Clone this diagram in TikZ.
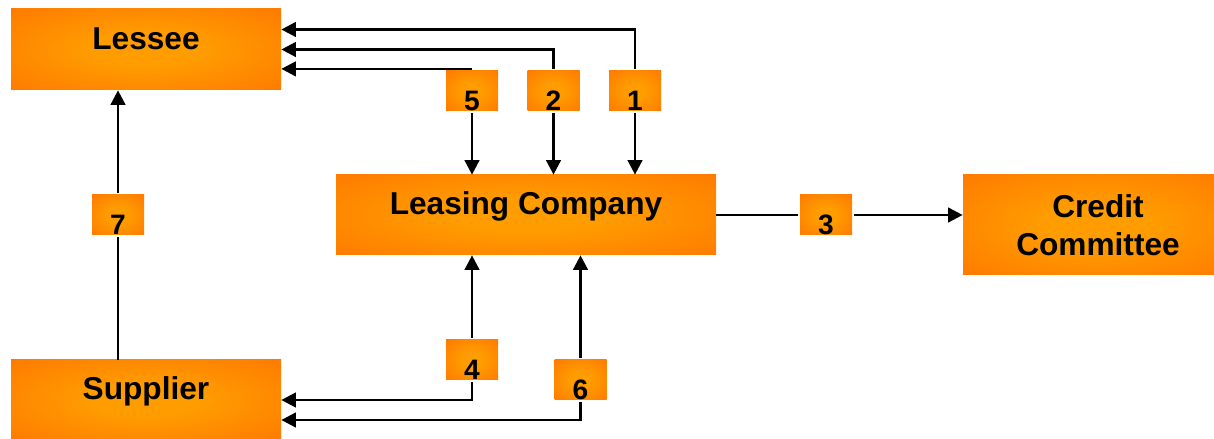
\documentclass[tikz,border=0pt]{standalone}
\usepackage{fontspec}
\setmainfont{Liberation Sans}
\usetikzlibrary{arrows.meta,calc}

\definecolor{rim}{HTML}{FF6800}
\definecolor{glow}{HTML}{FF9C00}
\pgfdeclareradialshading{glowbox}{\pgfpoint{0bp}{0bp}}{color(0bp)=(glow); color(10bp)=(glow); color(50bp)=(rim); color(75bp)=(rim)}

\begin{document}
\begin{tikzpicture}
        \tikzset{party/.style={shading=glowbox, minimum width=5.4cm, minimum height=1.6cm, inner sep=0pt, font=\fontsize{18}{21.5}\selectfont\bfseries},
                 oneline/.style={text height=13pt, text depth=13pt},
                 tag/.style={shading=glowbox, minimum width=1.04cm, minimum height=0.8cm, inner sep=0pt, outer sep=1.2pt, text height=0.8cm, text depth=0pt, font=\fontsize{16}{16}\selectfont\bfseries},
                 flow/.style={line width=1.5pt, -{Triangle[length=2.9mm, width=2.9mm]}},
                 plain/.style={line width=1.5pt}}
        \useasboundingbox (0,0) rectangle (24.28,8.78);

        % parties
        \node[party, oneline, minimum height=1.62cm] (lessee) at (2.92,7.79) {Lessee};
        \node[party, oneline, minimum width=7.6cm] (leasing) at (10.52,4.48) {Leasing Company};
        \node[party, minimum height=2cm, align=center] (credit) at (21.96,4.28) {Credit\\Committee};
        \node[party, oneline] (supplier) at (2.92,0.78) {Supplier};

        % numbered steps
        \node[tag] (t1) at (12.70,6.96) {1};
        \node[tag] (t2) at (11.07,6.96) {2};
        \node[tag] (t3) at (16.52,4.48) {3};
        \node[tag] (t4) at (9.44,1.58) {4};
        \node[tag] (t5) at (9.44,6.96) {5};
        \node[tag] (t6) at (11.61,1.18) {6};
        \node[tag] (t7) at (2.36,4.48) {7};

        % lessee <-> leasing company
        \draw[flow] (t1.north) |- ($(lessee.east)+(0,0.4)$);
        \draw[flow] (t2.north) |- (lessee.east);
        \draw[flow] (t5.north) -- (t5.north -| lessee.east);
        \foreach \tg in {t1,t2,t5}
            \draw[flow] (\tg) -- (\tg |- leasing.north);

        % credit committee
        \draw[plain] (leasing) -- (t3);
        \draw[flow] (t3) -- (t3 -| credit.west);

        % supplier
        \draw[flow] (t4) -- (t4 |- leasing.south);
        \draw[flow] (t6) -- (t6 |- leasing.south);
        \draw[flow] (t4.south) |- (supplier.east);
        \draw[flow] (t6.south) |- ($(supplier.east)+(0,-0.4)$);
        \draw[plain] (supplier.north -| t7) -- (t7);
        \draw[flow] (t7) -- (t7 |- lessee.south);
\end{tikzpicture}
\end{document}
